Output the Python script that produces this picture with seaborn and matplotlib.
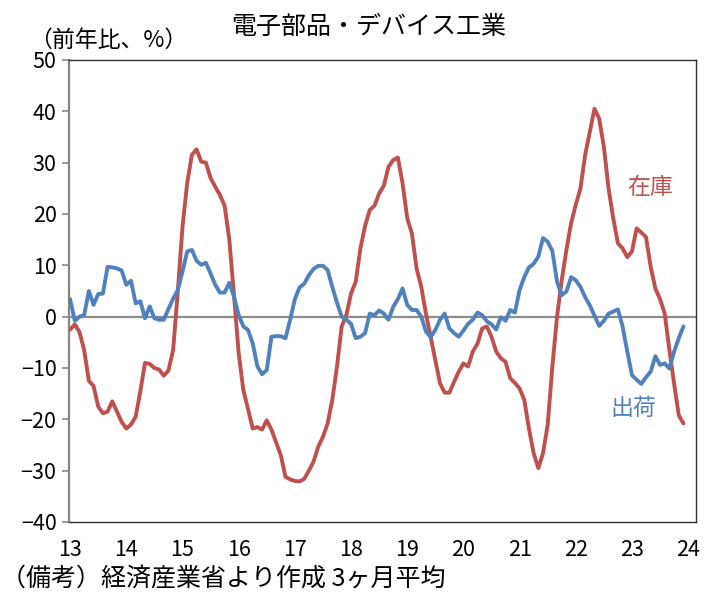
import numpy as np
import pandas as pd
import matplotlib
matplotlib.use("Agg")
import matplotlib.pyplot as plt
import seaborn as sns

# Monthly data, Jan 2013 - Dec 2023 (3-month average, YoY %)
inventory = [
    -2.5, -1.5, -3.0, -6.5, -12.5, -13.5, -17.5, -18.8, -18.5, -16.5, -18.5, -20.5,
    -21.8, -21.0, -19.5, -14.5, -9.0, -9.2, -10.0, -10.3, -11.5, -10.5, -6.5, 4.9,
    17.5, 26.0, 31.5, 32.6, 30.2, 30.0, 27.0, 25.3, 23.7, 21.6, 15.0, 4.2,
    -7.1, -14.3, -18.0, -21.8, -21.5, -22.0, -20.2, -22.0, -24.5, -27.0, -31.2, -31.7,
    -32.0, -32.1, -31.6, -30.0, -28.2, -25.3, -23.4, -20.8, -16.2, -9.7, -1.9, 0.3,
    4.5, 6.8, 13.3, 17.7, 20.8, 21.6, 24.0, 25.5, 29.2, 30.5, 31.0, 26.0,
    19.2, 16.2, 9.4, 5.8, 0.6, -3.9, -8.4, -13.0, -14.8, -14.8, -12.7, -10.7,
    -9.1, -9.7, -6.8, -5.3, -2.3, -1.9, -3.9, -6.8, -8.1, -8.8, -12.0, -12.9,
    -14.0, -16.2, -21.8, -26.6, -29.5, -26.6, -21.1, -9.7, 0.0, 7.1, 13.0, 18.2,
    21.8, 25.0, 31.5, 36.0, 40.5, 38.6, 33.1, 25.0, 19.2, 14.3, 13.3, 11.6,
    12.7, 17.2, 16.4, 15.5, 9.7, 5.5, 3.4, 0.6, -6.5, -13.0, -19.2, -20.8,
]
shipments = [
    3.4, -0.8, 0.0, 0.3, 5.0, 2.3, 4.4, 4.5, 9.7, 9.6, 9.4, 9.0,
    6.2, 7.0, 2.6, 3.0, -0.3, 2.0, -0.3, -0.6, -0.6, 1.5, 3.5, 5.2,
    8.8, 12.7, 13.0, 10.9, 10.1, 10.5, 8.4, 6.2, 4.7, 4.7, 6.6, 3.9,
    0.3, -1.9, -2.6, -5.2, -9.7, -11.2, -10.4, -3.9, -3.8, -3.8, -4.2, -0.6,
    3.4, 5.7, 6.4, 8.1, 9.3, 9.9, 9.9, 9.1, 5.8, 2.7, 0.0, -0.6,
    -1.4, -4.2, -3.9, -3.2, 0.6, 0.3, 1.2, 0.6, -0.6, 1.9, 3.4, 5.5,
    2.3, 1.3, 1.3, 0.0, -2.9, -4.0, -2.6, -0.6, 0.6, -2.3, -3.2, -3.9,
    -2.7, -1.4, -0.6, 0.8, 0.3, -0.9, -1.5, -2.5, -0.1, -0.8, 1.3, 0.8,
    5.2, 7.7, 9.6, 10.3, 11.7, 15.3, 14.6, 12.8, 6.8, 4.2, 4.9, 7.7,
    7.1, 5.8, 3.8, 2.2, 0.2, -1.8, -0.8, 0.6, 1.0, 1.4, -1.9, -6.8,
    -11.4, -12.3, -13.1, -11.8, -10.7, -7.7, -9.4, -9.1, -10.1, -6.8, -4.2, -1.9,
]
series_names = ["在庫", "出荷"]
colors = ["#C0504D", "#4F81BD"]
x_ticks = list(range(13, 25))
x_ticklabels = [str(v) for v in x_ticks]
y_ticks = list(range(-40, 51, 10))

n = len(inventory)
t = 13 + np.arange(n) / 12.0
df = pd.DataFrame({
    "t": np.concatenate([t, t]),
    "value": inventory + shipments,
    "series": [series_names[0]] * n + [series_names[1]] * n,
})

sns.set_theme(style="white")
plt.rcParams["font.family"] = ["Noto Sans CJK JP", "DejaVu Sans"]

W, H = 711, 595
fig = plt.figure(figsize=(W / 100, H / 100), dpi=100)
ax = fig.add_axes([69 / W, 1 - 522 / H, (696 - 69) / W, (522 - 60) / H])

ax.axhline(0, color="#8c8c8c", lw=1.6, zorder=1)
sns.lineplot(data=df, x="t", y="value", hue="series", palette=colors,
             hue_order=series_names, linewidth=2.8, legend=False, ax=ax, zorder=3)

ax.set_xlim(12.98, 24.14)
ax.set_ylim(-40, 50)
ax.set_xticks(x_ticks)
ax.set_xticklabels(x_ticklabels)
ax.set_yticks(y_ticks)
ax.set_xlabel("")
ax.set_ylabel("")
ax.tick_params(axis="x", length=0, pad=12, labelsize=15.5, colors="black")
ax.tick_params(axis="y", length=5, width=1.2, color="#868686", pad=4,
               labelsize=15.5, labelcolor="black", left=True)

for side in ["top", "right", "bottom"]:
    ax.spines[side].set_color("#303030")
    ax.spines[side].set_linewidth(1.0)
    ax.spines[side].set_visible(True)
ax.spines["left"].set_color("#868686")
ax.spines["left"].set_linewidth(1.6)
ax.grid(False)

fig.text(650 / W, 1 - 188 / H, series_names[0], color=colors[0],
         fontsize=16.5, ha="center", va="center")
fig.text(633 / W, 1 - 408 / H, series_names[1], color=colors[1],
         fontsize=16.5, ha="center", va="center")

fig.text(369 / W, 1 - 27 / H, "電子部品・デバイス工業", ha="center", va="center",
         fontsize=18, color="black")
fig.text(29 / W, 1 - 40 / H, "（前年比、%）", ha="left", va="center",
         fontsize=16.5, color="black")
fig.text(1 / W, 1 - 578 / H, "（備考）経済産業省より作成 3ヶ月平均", ha="left",
         va="center", fontsize=18, color="black")

fig.savefig("out.png", dpi=100, facecolor="white")
